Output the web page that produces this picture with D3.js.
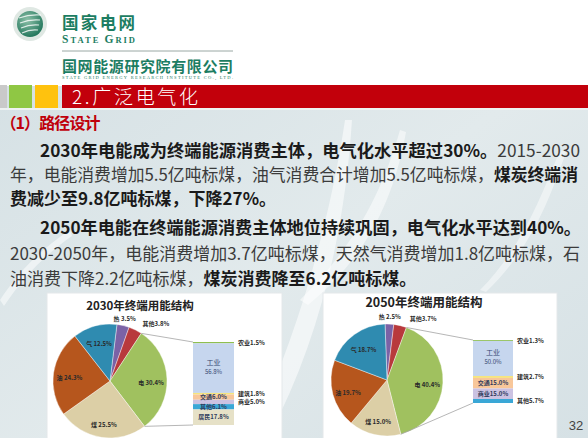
<!DOCTYPE html>
<html><head><meta charset="utf-8">
<script src="https://cdn.jsdelivr.net/npm/d3@7"></script>
<style>html,body{margin:0;padding:0;overflow:hidden;background:#fff}</style>
</head><body><svg id="c" width="588" height="438"></svg>
<script>
// ---------- data ----------
const pieCategories = ["热","其他","电","煤","油","气"];
const pie2030 = [3.5, 3.8, 30.4, 25.5, 24.3, 12.5];
const pie2050 = [2.5, 3.7, 40.4, 15.0, 19.7, 18.7];
const barCategories = ["农业","工业","建筑","交通","商业","其他","居民"];
const bar2030 = [1.5, 56.8, 1.8, 6.0, 5.0, 6.1, 17.8];
const bar2050 = [1.3, 50.0, 2.7, 15.0, 15.0, 5.7, 0];
const chartTitles = ["2030年终端用能结构", "2050年终端用能结构"];
const sectionTitle = "2.广泛电气化";
const subTitle = "（1）路径设计";
const bodyLines = [
  [["2030年电能成为终端能源消费主体，电气化水平超过30%。", true], ["2015-2030", false]],
  [["年，电能消费增加5.5亿吨标煤，油气消费合计增加5.5亿吨标煤，", false], ["煤炭终端消", true]],
  [["费减少至9.8亿吨标煤，下降27%。", true]],
  [["2050年电能在终端能源消费主体地位持续巩固，电气化水平达到40%。", true]],
  [["2030-2050年，电能消费增加3.7亿吨标煤，天然气消费增加1.8亿吨标煤，石", false]],
  [["油消费下降2.2亿吨标煤，", false], ["煤炭消费降至6.2亿吨标煤。", true]]
];

// ---------- setup ----------
const svg = d3.select("#c");
const CJK = "'Noto Sans CJK SC','Noto Sans',sans-serif";
const defs = svg.append("defs");

const bg = defs.append("linearGradient").attr("id","bg").attr("x1",0).attr("y1",0).attr("x2",1).attr("y2",1);
bg.append("stop").attr("offset","0%").attr("stop-color","#d3dfe3");
bg.append("stop").attr("offset","55%").attr("stop-color","#e2eaec");
bg.append("stop").attr("offset","100%").attr("stop-color","#d6e1e5");

const globe = defs.append("radialGradient").attr("id","globe").attr("cx","40%").attr("cy","35%").attr("r","70%");
globe.append("stop").attr("offset","0%").attr("stop-color","#8cc0a8");
globe.append("stop").attr("offset","100%").attr("stop-color","#1d7358");

// background
svg.append("rect").attr("width",588).attr("height",438).attr("fill","url(#bg)");
svg.append("rect").attr("width",588).attr("height",86).attr("fill","#ffffff");
// white swooshes
const sw = svg.append("g").attr("fill","#ffffff");
sw.append("path").attr("d","M250,438 C300,330 330,220 345,120 L352,120 C345,230 320,340 268,438 Z").attr("opacity",0.55);
sw.append("path").attr("d","M300,300 C350,250 380,200 400,130 L406,132 C392,210 360,262 308,305 Z").attr("opacity",0.5);
sw.append("path").attr("d","M0,300 C20,270 40,250 70,230 L72,236 C45,255 25,275 4,306 Z").attr("opacity",0.5);
sw.append("path").attr("d","M560,150 C540,200 520,250 480,290 L486,292 C528,252 548,205 566,152 Z").attr("opacity",0.45);

// ---------- header ----------
const hdr = svg.append("g");
hdr.append("circle").attr("cx",30).attr("cy",24).attr("r",17).attr("fill","#dfe8e3");
hdr.append("circle").attr("cx",30).attr("cy",24).attr("r",13).attr("fill","url(#globe)");
[-6,-1,4,9].forEach((dy,i)=>{
  hdr.append("path").attr("d",`M${19+i},${24+dy} Q30,${20+dy} ${41-i},${24+dy-3}`)
    .attr("stroke","#ffffff").attr("stroke-width",1.2).attr("fill","none").attr("opacity",0.8);
});
hdr.append("text").attr("x",62).attr("y",28.5).attr("font-family",CJK).attr("font-weight",700)
  .attr("font-size",16.5).attr("fill","#1c7d62").attr("textLength",73).text("国家电网");
const sg = hdr.append("text").attr("x",62).attr("y",43).attr("font-family","'Liberation Serif',serif")
  .attr("font-weight",700).attr("fill","#1c7d62").attr("textLength",73);
sg.append("tspan").attr("font-size",11.5).text("S");
sg.append("tspan").attr("font-size",8.5).text("TATE ");
sg.append("tspan").attr("font-size",11.5).text("G");
sg.append("tspan").attr("font-size",8.5).text("RID");
hdr.append("line").attr("x1",62).attr("x2",233).attr("y1",51).attr("y2",51).attr("stroke","#9aa8a4").attr("stroke-width",1);
hdr.append("text").attr("x",62).attr("y",72).attr("font-family",CJK).attr("font-weight",700)
  .attr("font-size",15).attr("fill","#1c7d62").attr("textLength",171).text("国网能源研究院有限公司");
hdr.append("text").attr("x",62).attr("y",79).attr("font-family","'Liberation Serif',serif")
  .attr("font-size",4.5).attr("fill","#1c7d62").attr("textLength",171)
  .text("STATE GRID ENERGY RESEARCH INSTITUTE CO., LTD.");

// banner
svg.append("rect").attr("x",0).attr("y",85).attr("width",7).attr("height",23).attr("fill","#c9c9c9");
svg.append("rect").attr("x",9).attr("y",85).attr("width",23).attr("height",23).attr("fill","#8fc744");
svg.append("rect").attr("x",35).attr("y",85).attr("width",23).attr("height",23).attr("fill","#ffc20e");
svg.append("rect").attr("x",62).attr("y",85).attr("width",526).attr("height",23).attr("fill","#c2000b");
svg.append("rect").attr("x",0).attr("y",108).attr("width",588).attr("height",2).attr("fill","#eef2f2");
svg.append("text").attr("x",72).attr("y",104).attr("font-family",CJK).attr("font-weight",300)
  .attr("font-size",19).attr("fill","#ffffff").attr("textLength",126).text(sectionTitle);

svg.append("text").attr("x",0.5).attr("y",129).attr("font-family",CJK).attr("font-weight",700)
  .attr("font-size",16).attr("fill","#c0000b").attr("textLength",100).text(subTitle);

// body text
const lineLayout = [
  {x:40, y:156.5, w:540}, {x:10, y:180.5, w:568}, {x:10, y:204.5, w:null},
  {x:40, y:233.5, w:541}, {x:10, y:259.5, w:570}, {x:10, y:285, w:null}
];
bodyLines.forEach((segs,i)=>{
  const L = lineLayout[i];
  const t = svg.append("text").attr("x",L.x).attr("y",L.y).attr("font-family",CJK).attr("font-size",17);
  if (L.w) t.attr("textLength",L.w).attr("lengthAdjust","spacingAndGlyphs");
  segs.forEach(([s,b])=>{
    t.append("tspan").attr("font-weight", b?700:400).attr("fill", b?"#1a1a1a":"#3b3b3b").text(s);
  });
});

// ---------- charts ----------
const pieColor = d3.scaleOrdinal(pieCategories, ["#7b62a6","#b8393c","#a0c15f","#dccfa6","#b6561d","#2f8bb0"]);
const barColor = d3.scaleOrdinal(barCategories, ["#8fbf4f","#c6d6ee","#f6e57c","#f8c79a","#cbc2e2","#3aa7d6","#e6e1c7"]);
const fmt = d3.format(".1f");

function drawChart(cfg){
  const g = svg.append("g");
  g.append("rect").attr("x",cfg.px).attr("y",293).attr("width",cfg.pw).attr("height",150)
    .attr("fill","#ffffff").attr("stroke","#e4e8ea").attr("stroke-width",1);
  g.append("text").attr("x",cfg.tx).attr("y",cfg.ty).attr("text-anchor","middle")
    .attr("font-family",CJK).attr("font-weight",700).attr("font-size",cfg.tfs).attr("fill","#222")
    .text(cfg.title);

  const a0 = cfg.start*Math.PI/180;
  const pie = d3.pie().sort(null).value(d=>d.v).startAngle(a0).endAngle(a0+2*Math.PI);
  const data = pieCategories.map((c,i)=>({c, v: cfg.pie[i]}));
  const arcs = pie(data);
  const arc = d3.arc().innerRadius(0).outerRadius(cfg.r);
  const pg = g.append("g").attr("transform",`translate(${cfg.cx},${cfg.cy})`);
  pg.selectAll("path").data(arcs).join("path").attr("d",arc)
    .attr("fill",d=>pieColor(d.data.c)).attr("stroke","#ffffff").attr("stroke-width",0.4);

  const inArc = d3.arc().innerRadius(cfg.r*0.72).outerRadius(cfg.r*0.72);
  const outArc = d3.arc().innerRadius(cfg.r*1.12).outerRadius(cfg.r*1.12);
  arcs.forEach((d,i)=>{
    const small = d.data.v < 5;
    const [x,y] = small ? outArc.centroid(d) : inArc.centroid(d);
    const lbl = d.data.c + (d.data.c.length===1 ? " " : "") + fmt(d.data.v) + "%";
    pg.append("text").attr("x", small && i===1 ? x + cfg.ox : x).attr("y", (small? y : y+3) + 2)
      .attr("text-anchor", small && i===1 ? "start" : "middle")
      .attr("font-family",CJK).attr("font-weight",700).attr("font-size",6).attr("fill","#2a2a2a")
      .text(lbl);
  });

  // bar of pie
  const segs = barCategories.map((c,i)=>({c, v: cfg.bar[i]})).filter(d=>d.v>0);
  const total = d3.sum(segs, d=>d.v);
  const y = d3.scaleLinear().domain([0,total]).range([cfg.by0, cfg.by1]);
  let acc = 0;
  segs.forEach(d=>{ d.s = acc; acc += d.v; d.e = acc; });
  g.selectAll("rect.seg").data(segs).join("rect").attr("class","seg")
    .attr("x",cfg.bx0).attr("width",cfg.bx1-cfg.bx0)
    .attr("y",d=>y(d.s)).attr("height",d=>y(d.e)-y(d.s)).attr("fill",d=>barColor(d.c));
  segs.forEach(d=>{
    const cy = (y(d.s)+y(d.e))/2;
    const lbl = fmt(d.v)+"%";
    if (d.c==="工业"){
      const cx = (cfg.bx0+cfg.bx1)/2;
      g.append("text").attr("x",cx).attr("y",cy-3).attr("text-anchor","middle").attr("font-family",CJK)
        .attr("font-size",7).attr("fill","#34466e").text(d.c);
      g.append("text").attr("x",cx).attr("y",cy+6).attr("text-anchor","middle").attr("font-family",CJK)
        .attr("font-size",6).attr("fill","#34466e").text(lbl);
    } else if (d.v >= 6){
      g.append("text").attr("x",(cfg.bx0+cfg.bx1)/2).attr("y",cy+2.2).attr("text-anchor","middle")
        .attr("font-family",CJK).attr("font-weight",700).attr("font-size",6).attr("fill","#2f3b5c")
        .text(d.c+lbl);
    } else {
      g.append("text").attr("x",cfg.bx1+4).attr("y",cy+2.2).attr("text-anchor","start")
        .attr("font-family",CJK).attr("font-weight",700).attr("font-size",6).attr("fill","#2a2a2a")
        .text(d.c+lbl);
    }
  });

  // connector lines from the electricity slice
  const e = arcs[2];
  const pt = a => [cfg.cx + cfg.r*Math.sin(a), cfg.cy - cfg.r*Math.cos(a)];
  const p1 = pt(e.startAngle), p2 = pt(e.endAngle);
  g.append("line").attr("x1",p1[0]).attr("y1",p1[1]).attr("x2",cfg.bx0).attr("y2",cfg.by0)
    .attr("stroke","#a3a3a3").attr("stroke-width",0.8);
  g.append("line").attr("x1",p2[0]).attr("y1",p2[1]).attr("x2",cfg.bx0).attr("y2",cfg.by1)
    .attr("stroke","#a3a3a3").attr("stroke-width",0.8);
}

drawChart({title:chartTitles[0], pie:pie2030, bar:bar2030, px:47, pw:235, tx:140, ty:310, tfs:11.5,
  cx:110, cy:381, r:57, start:7, ox:4, bx0:193, bx1:234, by0:342, by1:425});
drawChart({title:chartTitles[1], pie:pie2050, bar:bar2050, px:323, pw:234, tx:424, ty:307, tfs:12.5,
  cx:387, cy:380, r:56, start:-2, ox:8, bx0:473, bx1:513, by0:340, by1:403});

svg.append("text").attr("x",576).attr("y",430).attr("text-anchor","middle").attr("font-family","'Liberation Sans',sans-serif")
  .attr("font-size",13).attr("fill","#444").text("32");
</script></body></html>
